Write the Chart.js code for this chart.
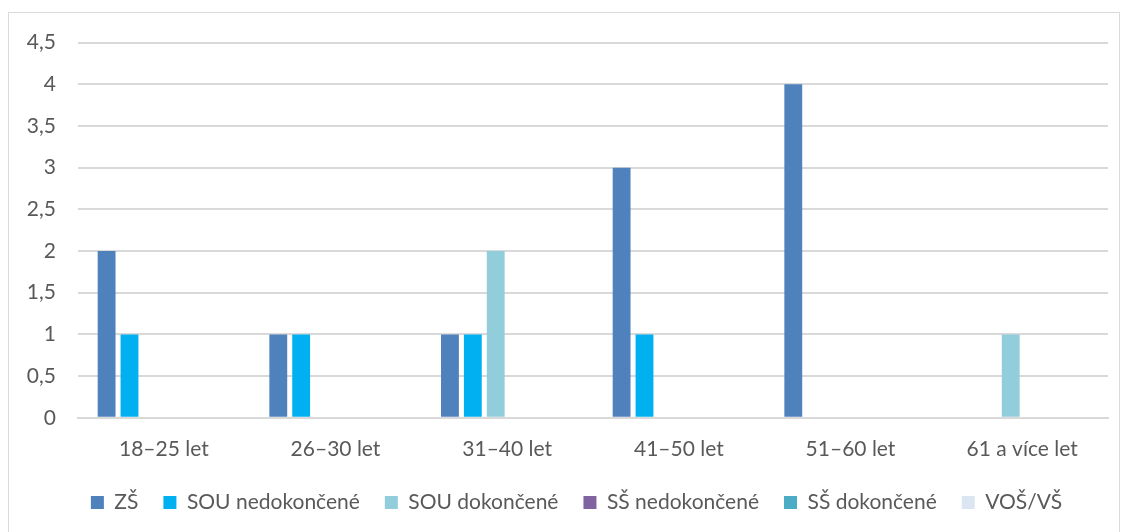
<!DOCTYPE html>
<html>
<head>
<meta charset="utf-8">
<script src="https://cdn.jsdelivr.net/npm/chart.js@4/dist/chart.umd.min.js"></script>
<style>
  body { margin: 0; background: #fff; overflow: hidden; }
  #box { position: absolute; left: 8px; top: 12px; width: 1112px; height: 560px; border: 1px solid #d9d9d9; box-sizing: border-box; overflow: hidden; }
  #wrap { position: absolute; left: 0; top: -5px; width: 1110px; height: 515px; }
</style>
</head>
<body>
<div id="box"><div id="wrap"><canvas id="chart"></canvas></div></div>
<script>
const categories = ['18–25 let', '26–30 let', '31–40 let', '41–50 let', '51–60 let', '61 a více let'];
const zs = [2, 1, 1, 3, 4, 0];
const souNedok = [1, 1, 1, 1, 0, 0];
const souDok = [0, 0, 2, 0, 0, 1];
const ssNedok = [0, 0, 0, 0, 0, 0];
const ssDok = [0, 0, 0, 0, 0, 0];
const vos = [0, 0, 0, 0, 0, 0];

const font = "Lato, 'Open Sans', sans-serif";

function ds(label, data, color) {
  return { label, data, backgroundColor: color, borderWidth: 0,
    barPercentage: 0.78, categoryPercentage: 0.8 };
}

// legend in the original sits a bit right of centre
const shiftLegend = {
  id: 'shiftLegend',
  afterLayout(chart) {
    chart.legend.left += 18;
    chart.legend.right += 18;
  }
};

new Chart(document.getElementById('chart'), {
  type: 'bar',
  data: {
    labels: categories,
    datasets: [
      ds('ZŠ', zs, '#4f81bd'),
      ds('SOU nedokončené', souNedok, '#00b0f0'),
      ds('SOU dokončené', souDok, '#92cddc'),
      ds('SŠ nedokončené', ssNedok, '#8064a2'),
      ds('SŠ dokončené', ssDok, '#4bacc6'),
      ds('VOŠ/VŠ', vos, '#dce6f2')
    ]
  },
  plugins: [shiftLegend],
  options: {
    responsive: true,
    maintainAspectRatio: false,
    animation: false,
    layout: { padding: { top: 14, right: 11, left: 0, bottom: 0 } },
    plugins: {
      tooltip: { enabled: false },
      legend: {
        position: 'bottom',
        labels: { boxWidth: 13, boxHeight: 13, padding: 25, color: '#595959', font: { family: font, size: 21 } }
      }
    },
    scales: {
      x: {
        afterFit: s => { s.height -= 6; },
        grid: { display: false },
        border: { color: '#d9d9d9', width: 2 },
        ticks: { color: '#595959', padding: 11, font: { family: font, size: 21 } }
      },
      y: {
        min: 0, max: 4.5,
        afterFit: s => { s.width = 69; },
        grid: { color: '#d9d9d9', lineWidth: 2, drawTicks: false },
        border: { display: false },
        ticks: {
          stepSize: 0.5, padding: 22, color: '#595959', font: { family: font, size: 21 },
          callback: v => String(v).replace('.', ',')
        }
      }
    }
  }
});
</script>
</body>
</html>
